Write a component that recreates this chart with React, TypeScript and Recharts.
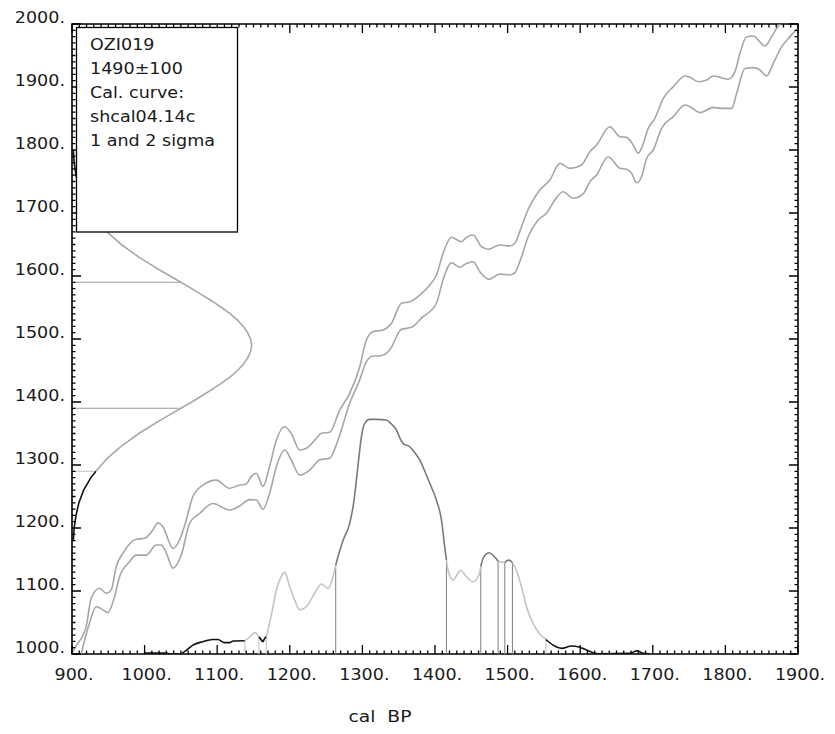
import React from 'react';
import { ComposedChart, Line, XAxis, YAxis, ReferenceArea } from 'recharts';

const FONT = "'DejaVu Sans', Verdana, sans-serif";
const SX = 1.17;

// axis ticks
const X_MAJOR = [900, 1000, 1100, 1200, 1300, 1400, 1500, 1600, 1700, 1800, 1900];
const Y_MAJOR = [1000, 1100, 1200, 1300, 1400, 1500, 1600, 1700, 1800, 1900, 2000];
const MINOR_STEP = 10;

// legend text
const LEGEND_LINES = ['OZI019', '1490±100', 'Cal. curve:', 'shcal04.14c', '1 and 2 sigma'];
const X_LABEL = 'cal  BP';

// calibration curve (upper / lower band) [calBP, 14C BP]
const CAL_UPPER: number[][] = [
  [901, 1003.7], [903.4, 1009], [919.5, 1043.4], [926.4, 1088.4], [937.9, 1104.3], [947.1, 1096.3], [954, 1101.6],
  [960.9, 1138.6], [970, 1159.8], [988.5, 1182], [1000, 1183.6], [1011.4, 1196.8], [1018.3, 1208.4], [1025.2, 1202],
  [1039, 1167.7], [1048.2, 1181], [1057.4, 1212.7], [1066.5, 1250], [1080.3, 1268], [1098.8, 1276], [1117, 1263],
  [1130, 1268], [1140, 1270], [1147, 1282], [1153.9, 1286.8], [1163, 1266], [1172, 1297], [1181.5, 1339.7],
  [1193, 1360.8], [1202, 1350.3], [1213.6, 1323.8], [1222.8, 1326.5], [1236.6, 1342.3], [1243.5, 1350.3], [1255, 1352],
  [1268.7, 1387], [1282.5, 1413.8], [1296.3, 1456], [1305.5, 1498.4], [1314.6, 1511.6], [1328.4, 1514.3], [1340, 1525],
  [1353.8, 1556.7], [1365.2, 1559.2], [1379, 1569.8], [1392.8, 1585.7], [1402, 1601.6], [1411.1, 1636], [1422.7, 1661.4],
  [1436.5, 1654.4], [1443.4, 1661.4], [1452.5, 1665], [1464, 1646.5], [1473.2, 1642.4], [1489.3, 1649.2], [1503, 1647.6],
  [1510, 1652], [1519.2, 1678.3], [1526, 1699.5], [1544.4, 1736.5], [1558.2, 1752.4], [1572, 1778.8], [1585.7, 1770.9],
  [1601.8, 1776.2], [1613.3, 1797.3], [1622.5, 1808], [1640.9, 1837], [1654.6, 1821.1], [1663.9, 1820], [1673, 1808],
  [1679.9, 1794.8], [1684.5, 1802.7], [1693.7, 1834.4], [1702.9, 1850.3], [1714.4, 1882], [1728.2, 1900.5],
  [1744.3, 1917.5], [1751.2, 1915.3], [1762.6, 1908.4], [1774.2, 1911], [1783.3, 1917.5], [1792.5, 1915.3],
  [1803.9, 1912.2], [1813.2, 1924.3], [1820, 1953.4], [1829.3, 1979.9], [1838.4, 1981], [1854.5, 1965],
  [1863.7, 1980], [1870.6, 1993], [1875, 2000],
];
const CAL_LOWER: number[][] = [
  [912.6, 1000], [924, 1048.7], [933.4, 1075], [940, 1072], [949.4, 1065.6], [958.6, 1091], [965.5, 1122.7],
  [979.3, 1146.6], [988.5, 1157], [1002.3, 1157], [1016, 1173], [1023, 1173], [1030, 1160], [1039, 1136],
  [1050.5, 1157], [1062, 1207.4], [1075.7, 1223], [1094, 1239], [1117, 1228.6], [1131, 1235], [1144.7, 1245],
  [1154, 1244.4], [1163, 1229.6], [1172.2, 1255], [1181.5, 1297.4], [1193, 1323.8], [1202, 1308], [1213.6, 1284],
  [1227.4, 1292], [1241.1, 1308], [1255, 1310.6], [1266.4, 1339.7], [1282.5, 1398], [1296.3, 1435], [1305.5, 1464],
  [1314.6, 1473], [1323.8, 1473], [1337.6, 1482.5], [1353.8, 1515.3], [1367.5, 1518.5], [1383.5, 1535.4],
  [1397.3, 1548.6], [1402, 1556.7], [1411, 1593.7], [1422.7, 1621], [1434.1, 1613.8], [1443.4, 1620], [1452.5, 1622.7],
  [1461.7, 1606.8], [1474.5, 1594.7], [1489.3, 1603], [1503, 1601.6], [1510, 1605.3], [1519.2, 1630.7],
  [1528.3, 1662.4], [1542, 1688.9], [1553.6, 1699.5], [1565, 1720.6], [1576.5, 1733.8], [1590.3, 1723.3],
  [1604, 1730.2], [1613.3, 1749.7], [1622.5, 1760.3], [1638.5, 1789.4], [1654.6, 1771], [1663.9, 1769.3],
  [1670.8, 1763], [1677.7, 1748], [1684.5, 1757.6], [1691.5, 1786.8], [1700.6, 1800], [1712.1, 1834.4],
  [1728.2, 1853], [1744.3, 1871.4], [1751.2, 1868.8], [1765, 1859.3], [1783.3, 1867.7], [1794.8, 1866.1],
  [1808.6, 1866], [1815.5, 1889.9], [1826.9, 1929.5], [1838.4, 1930.7], [1847.6, 1927], [1856.8, 1917.5],
  [1866, 1937.6], [1877.5, 1964], [1889, 1980], [1900, 1993],
];

// radiocarbon date distribution on the y axis [calBP extent, 14C BP]
const DATE_TAIL_LOW: number[][] = [
  [901.8, 1180], [903, 1200], [905.5, 1220], [909.5, 1240], [916, 1260], [926, 1280], [933, 1290],
];
const DATE_CORE: number[][] = [
  [933, 1290], [940.5, 1300], [948, 1310], [958, 1320], [968, 1330], [980, 1340], [992, 1350], [1006, 1360],
  [1020, 1370], [1035, 1380], [1050, 1390], [1065, 1400], [1079, 1410], [1093, 1420], [1106, 1430], [1118, 1440],
  [1128, 1450], [1136, 1460], [1142, 1470], [1146, 1480], [1147.5, 1490], [1146, 1500], [1142, 1510], [1136, 1520],
  [1128, 1530], [1118, 1540], [1106, 1550], [1093, 1560], [1079, 1570], [1065, 1580], [1050, 1590], [1035, 1600],
  [1020, 1610], [1006, 1620], [992, 1630], [980, 1640], [968, 1650], [958, 1660], [948, 1670], [940.5, 1680], [933, 1690],
];
const DATE_TAIL_HIGH: number[][] = [
  [933, 1690], [926, 1700], [916, 1720], [909.5, 1740], [905.5, 1760], [903, 1780], [901.8, 1800],
];
const DATE_1S_Y = [1390, 1590];
const DATE_1S_XEND = [1050, 1050];
const DATE_2S_Y = [1290, 1690];
const DATE_2S_XEND = [933, 933];

// calibrated probability on the x axis, split by range
const PROB_OUT: number[][][] = [
  [[1000, 1001.5], [1030, 1001.5], [1035, 1000], [1048, 1000], [1055, 1003.7], [1066.5, 1014], [1080, 1019.6],
    [1094, 1023], [1101, 1023], [1110, 1018], [1117, 1018], [1122, 1020.6], [1138, 1021]],
  [[1157.5, 1027.5], [1161, 1022], [1163, 1019.6], [1165, 1024], [1167.7, 1027.5]],
  [[1552.7, 1023], [1562.7, 1014], [1574.3, 1009], [1588, 1012.7], [1599.5, 1010.6], [1608.7, 1006.3],
    [1617.8, 1002], [1627, 1000.5], [1668, 1001], [1678.5, 1005], [1686.8, 1001], [1696, 1000]],
];
const PROB_2S: number[][][] = [
  [[1138, 1021], [1145, 1027], [1151.5, 1034], [1157.5, 1027.5]],
  [[1167.7, 1027.5], [1172, 1048.6], [1176, 1070], [1181.5, 1101.6], [1187, 1120], [1193, 1130], [1199.8, 1107],
    [1206.7, 1085.7], [1213.6, 1070], [1222.8, 1075], [1230, 1088], [1236.6, 1101.6], [1243.5, 1111], [1248, 1108],
    [1252.6, 1104], [1259.5, 1122.7], [1263.2, 1141]],
  [[1415.8, 1149], [1418, 1133], [1424.9, 1117.5], [1430, 1125], [1435, 1133], [1443.3, 1122.7], [1452.4, 1114.8],
    [1460.7, 1125.4], [1463, 1138.6]],
  [[1486.9, 1147.6], [1491, 1146], [1496.1, 1145]],
  [[1506.7, 1145], [1512.2, 1133], [1519.1, 1106.9], [1526, 1075], [1535, 1048.6], [1544.4, 1031.7], [1552.7, 1023]],
];
const PROB_1S: number[][][] = [
  [[1263.2, 1141], [1266.4, 1154.5], [1273.3, 1180], [1282.5, 1207.4], [1288, 1240], [1291.7, 1276], [1295, 1310],
    [1298.6, 1345], [1303.2, 1366], [1310, 1372.5], [1320, 1372.5], [1333, 1371.4], [1340, 1365], [1346.8, 1355.6],
    [1352, 1342], [1356, 1334.4], [1365.2, 1329], [1372, 1320], [1379, 1308], [1386, 1290], [1392.8, 1271],
    [1402, 1244], [1408.9, 1212.7], [1413.4, 1170], [1415.8, 1149]],
  [[1463, 1138.6], [1466.2, 1151.9], [1470, 1158], [1474.5, 1160.8], [1481, 1155.6], [1486.9, 1147.6]],
  [[1496.1, 1145], [1500.7, 1149], [1504, 1148], [1506.7, 1145]],
];
const BOUND_1S_X = [1263.2, 1415.8, 1463, 1486.9, 1496.1, 1506.7];
const BOUND_1S_TOP = [1141, 1149, 1138.6, 1147.6, 1145, 1145];
const BOUND_2S_X = [1138, 1157.5, 1167.7, 1552.7];
const BOUND_2S_TOP = [1021, 1027.5, 1027.5, 1023];

const X_DOMAIN = [X_MAJOR[0], X_MAJOR[X_MAJOR.length - 1]];
const Y_DOMAIN = [Y_MAJOR[0], Y_MAJOR[Y_MAJOR.length - 1]];

const toPts = (arr: number[][]) => arr.map(([x, y]) => ({ x, y }));

const withMinor = (major: number[]) => {
  const out: number[] = [];
  for (let i = 0; i < major.length - 1; i++) {
    for (let v = major[i]; v < major[i + 1]; v += MINOR_STEP) out.push(v);
  }
  out.push(major[major.length - 1]);
  return out;
};
const X_TICKS = withMinor(X_MAJOR);
const Y_TICKS = withMinor(Y_MAJOR);
const isMajor = (v: number) => v % 100 === 0;

// layout
const W = 835;
const H = 734;
const MARGIN = { top: 24, right: 37, bottom: 50, left: 0 };
const YAXIS_W = 72;
const XAXIS_H = 30;
const PL = MARGIN.left + YAXIS_W;
const PT = MARGIN.top;
const PR = W - MARGIN.right;
const PB = H - MARGIN.bottom - XAXIS_H;
const sx = (v: number) => PL + ((v - X_DOMAIN[0]) / (X_DOMAIN[1] - X_DOMAIN[0])) * (PR - PL);
const sy = (v: number) => PB - ((v - Y_DOMAIN[0]) / (Y_DOMAIN[1] - Y_DOMAIN[0])) * (PB - PT);
const MAJ = 9;
const MIN = 3.5;

const tickPath = () => {
  let d = '';
  X_TICKS.forEach((v) => {
    const len = isMajor(v) ? MAJ : MIN;
    const x = sx(v);
    d += `M${x},${PB}V${PB - len}M${x},${PT}V${PT + len}`;
  });
  Y_TICKS.forEach((v) => {
    const len = isMajor(v) ? MAJ : MIN;
    const y = sy(v);
    d += `M${PL},${y}H${PL + len}M${PR},${y}H${PR - len}`;
  });
  return d;
};

const C_CAL = '#a6a6a6';
const C_DATE = '#a8a8a8';
const C_1S = '#7a7a7a';
const C_2S = '#c4c4c4';
const C_OUT = '#111111';

const BottomTick = (p: any) => {
  const x = Number(p.x);
  const y = Number(p.y);
  const v = p.payload.value;
  if (!isMajor(v)) return <g />;
  return (
    <text transform={`translate(${x + 2},${y + 26}) scale(${SX},1)`} textAnchor="middle" fontSize={15}
      fontFamily={FONT} fill="#1a1a1a">{`${v}.`}</text>
  );
};
const LeftTick = (p: any) => {
  const x = Number(p.x);
  const y = Number(p.y);
  const v = p.payload.value;
  if (!isMajor(v)) return <g />;
  return (
    <text transform={`translate(${x - 7},${y - 1}) scale(${SX},1)`} textAnchor="end" fontSize={15}
      fontFamily={FONT} fill="#1a1a1a">{`${v}.`}</text>
  );
};

const XLabel = (p: any) => {
  const vb = p.viewBox || {};
  const cx = vb.x + vb.width / 2 - 55;
  return (
    <text transform={`translate(${cx},${vb.y + 67.7}) scale(${SX},1)`} textAnchor="middle" fontSize={16}
      fontFamily={FONT} fill="#1a1a1a" style={{ whiteSpace: 'pre' }}>{X_LABEL}</text>
  );
};

const series = (key: string, data: any[], color: string, width = 1.5, curve: any = 'linear') => (
  <Line key={key} data={data} dataKey="y" stroke={color} strokeWidth={width} dot={false} activeDot={false}
    isAnimationActive={false} type={curve} legendType="none" />
);

export default function App() {
  const items: React.ReactNode[] = [];
  items.push(series('calU', toPts(CAL_UPPER), C_CAL, 1.6, 'monotone'));
  items.push(series('calL', toPts(CAL_LOWER), C_CAL, 1.6, 'monotone'));
  DATE_1S_Y.forEach((yv, i) =>
    items.push(series(`h1-${i}`, [{ x: X_DOMAIN[0], y: yv }, { x: DATE_1S_XEND[i], y: yv }], '#9a9a9a', 1.1)));
  DATE_2S_Y.forEach((yv, i) =>
    items.push(series(`h2-${i}`, [{ x: X_DOMAIN[0], y: yv }, { x: DATE_2S_XEND[i], y: yv }], '#c8c8c8', 1.1)));
  items.push(series('dateLow', toPts(DATE_TAIL_LOW), C_OUT, 1.6));
  items.push(series('dateHigh', toPts(DATE_TAIL_HIGH), C_OUT, 1.6));
  items.push(series('dateCore', toPts(DATE_CORE), C_DATE, 1.6));
  BOUND_2S_X.forEach((xv, i) =>
    items.push(series(`v2-${i}`, [{ x: xv, y: Y_DOMAIN[0] }, { x: xv, y: BOUND_2S_TOP[i] }], '#c8c8c8', 1.1)));
  BOUND_1S_X.forEach((xv, i) =>
    items.push(series(`v1-${i}`, [{ x: xv, y: Y_DOMAIN[0] }, { x: xv, y: BOUND_1S_TOP[i] }], '#8a8a8a', 1.1)));
  PROB_OUT.forEach((seg, i) => items.push(series(`po-${i}`, toPts(seg), C_OUT, 1.6, 'monotone')));
  PROB_2S.forEach((seg, i) => items.push(series(`p2-${i}`, toPts(seg), C_2S, 1.6, 'monotone')));
  PROB_1S.forEach((seg, i) => items.push(series(`p1-${i}`, toPts(seg), C_1S, 1.6, 'monotone')));

  return (
    <div style={{ position: 'absolute', left: 0, top: 0, width: W, height: H, background: '#fff' }}>
      <ComposedChart width={W} height={H} margin={MARGIN}>
        <XAxis dataKey="x" type="number" domain={X_DOMAIN} allowDataOverflow ticks={X_TICKS}
          interval={0} tickLine={false} tickSize={0} tickMargin={0} height={XAXIS_H}
          axisLine={false} tick={BottomTick} label={XLabel} />
        <YAxis type="number" domain={Y_DOMAIN} allowDataOverflow ticks={Y_TICKS} interval={0}
          tickLine={false} tickSize={0} tickMargin={0} width={YAXIS_W}
          axisLine={false} tick={LeftTick} />
        {items}
        <ReferenceArea x1={X_DOMAIN[0]} x2={X_DOMAIN[1]} y1={Y_DOMAIN[0]} y2={Y_DOMAIN[1]} fill="none"
          fillOpacity={0} stroke="#000" strokeWidth={1.6} ifOverflow="visible" />
      </ComposedChart>
      <svg width={W} height={H} style={{ position: 'absolute', left: 0, top: 0, pointerEvents: 'none' }}>
        <path d={tickPath()} stroke="#000" strokeWidth={1.3} fill="none" />
        <rect x={76.5} y={27.5} width={161} height={204.5} fill="#fff" stroke="#000" strokeWidth={1.3} />
        {LEGEND_LINES.map((t, i) => (
          <text key={t} transform={`translate(90,${49.5 + i * 24.2}) scale(${SX},1)`} fontSize={15}
            fontFamily={FONT} fill="#1a1a1a">{t}</text>
        ))}
      </svg>
    </div>
  );
}
